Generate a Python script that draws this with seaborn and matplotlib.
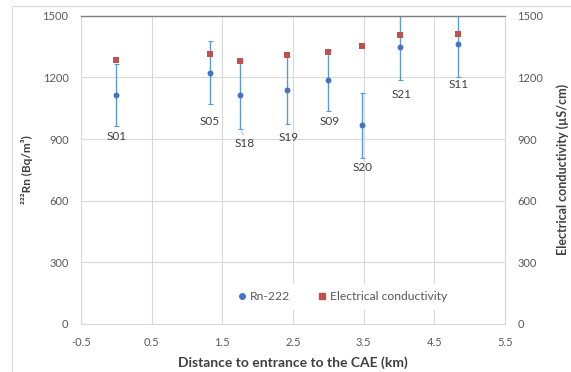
import matplotlib
matplotlib.use("Agg")
import matplotlib.pyplot as plt
import matplotlib.lines as mlines
import seaborn as sns
import pandas as pd

# Sampling sites along the gallery
sites = ["S01", "S05", "S18", "S19", "S09", "S20", "S21", "S11"]
distance_km = [0.0, 1.32, 1.75, 2.42, 2.99, 3.47, 4.01, 4.84]
rn222 = [1114, 1222, 1114, 1138, 1185, 966, 1349, 1360]
rn222_err = [150, 153, 166, 165, 149, 158, 164, 157]
conductivity = [1283, 1312, 1280, 1310, 1321, 1352, 1406, 1412]

x_ticks = [-0.5, 0.5, 1.5, 2.5, 3.5, 4.5, 5.5]
y_ticks = [0, 300, 600, 900, 1200, 1500]

# label placement (pixel offsets from the lower end of each error bar)
label_dx = [0, 0, 5, 1, 2, 1, 2, 0]
label_dy = [-11, -17, -14, -13, -10, -10, -14, -8]

df = pd.DataFrame({"site": sites, "distance": distance_km, "rn": rn222,
                   "err": rn222_err, "ec": conductivity})

sns.set_theme(style="white")
plt.rcParams["font.family"] = ["Lato", "DejaVu Sans"]

DPI = 100
fig = plt.figure(figsize=(571 / DPI, 372 / DPI), dpi=DPI)
ax = fig.add_axes([81 / 571, 1 - 324 / 372, 424 / 571, 308.3 / 372])
ax2 = ax.twinx()

tick_color = "#595959"
grid_color = "#D9D9D9"
blue = "#4472C4"
bar_blue = "#5B9BD5"
red = "#C0504D"

ax.errorbar(df["distance"], df["rn"], yerr=df["err"], fmt="none",
            ecolor=bar_blue, elinewidth=1.0, capsize=1.8, capthick=0.8,
            zorder=2, clip_on=True)
sns.scatterplot(data=df, x="distance", y="rn", ax=ax, color=blue,
                marker="o", s=18, linewidth=0, zorder=3, label="Rn-222",
                legend=False)
sns.scatterplot(data=df, x="distance", y="ec", ax=ax2, color=red,
                marker="s", s=24, linewidth=0, zorder=3,
                label="Electrical conductivity", legend=False)

for ax_ in (ax, ax2):
    ax_.set_ylim(0, 1500)
    ax_.set_yticks(y_ticks)
    ax_.set_xlim(-0.5, 5.5)
ax.set_xticks(x_ticks)
ax.set_xticklabels([f"{v:g}" for v in x_ticks])

ax.grid(True, color=grid_color, linewidth=0.8)
ax.set_axisbelow(True)
for name, sp in ax.spines.items():
    sp.set_color(grid_color)
    sp.set_linewidth(0.8)
ax.spines["top"].set_color("#7F7F7F")
ax.spines["top"].set_linewidth(1.0)
for name, sp in ax2.spines.items():
    sp.set_visible(False)

ax.tick_params(axis="both", length=0, labelsize=8, labelcolor=tick_color,
               pad=9)
ax2.tick_params(axis="y", length=0, labelsize=8, labelcolor=tick_color,
                pad=9)

label_kw = dict(fontweight="bold", color="#404040")
ax.set_xlabel("Distance to entrance to the CAE (km)", labelpad=6,
              fontsize=10, **label_kw)
ax.set_ylabel("²²²Rn (Bq/m³)", labelpad=7, fontsize=8.5, **label_kw)
ax2.set_ylabel("Electrical conductivity (µS/cm)", labelpad=9, fontsize=9,
               **label_kw)

# site labels below each error bar
for i, row in df.iterrows():
    bottom = row["rn"] - row["err"]
    ax.annotate(row["site"], xy=(row["distance"], bottom),
                xytext=(label_dx[i] * 0.72, label_dy[i] * 0.72),
                textcoords="offset points", ha="center", va="center",
                fontsize=8.5, color="#404040", zorder=4)
    if row["site"] == "S18":
        ax.annotate("", xy=(row["distance"], bottom),
                    xytext=(label_dx[i] * 0.72, (label_dy[i] + 6) * 0.72),
                    textcoords="offset points",
                    arrowprops=dict(arrowstyle="-", color="#BFBFBF", lw=0.8))

handles = [
    mlines.Line2D([], [], color=blue, marker="o", linestyle="none",
                  markersize=4),
    mlines.Line2D([], [], color=red, marker="s", linestyle="none",
                  markersize=4),
]
leg = ax2.legend(handles, ["Rn-222", "Electrical conductivity"], ncol=2,
                 loc="center", bbox_to_anchor=(0.615, 0.088), frameon=True,
                 fontsize=8.7, handletextpad=0.2, columnspacing=2.1,
                 handlelength=1.0, borderpad=0.6)
leg.get_frame().set_facecolor("white")
leg.get_frame().set_edgecolor("none")
leg.get_frame().set_alpha(1)
for t in leg.get_texts():
    t.set_color(tick_color)

# outer chart frame
fx = 11.5 / 571
fy = 1 - 5.5 / 372
fig.add_artist(mlines.Line2D([fx, fx], [0, fy], transform=fig.transFigure,
                             color=grid_color, lw=0.8))
fig.add_artist(mlines.Line2D([fx, 1], [fy, fy], transform=fig.transFigure,
                             color=grid_color, lw=0.8))

fig.savefig("out.png", dpi=DPI, facecolor="white")
